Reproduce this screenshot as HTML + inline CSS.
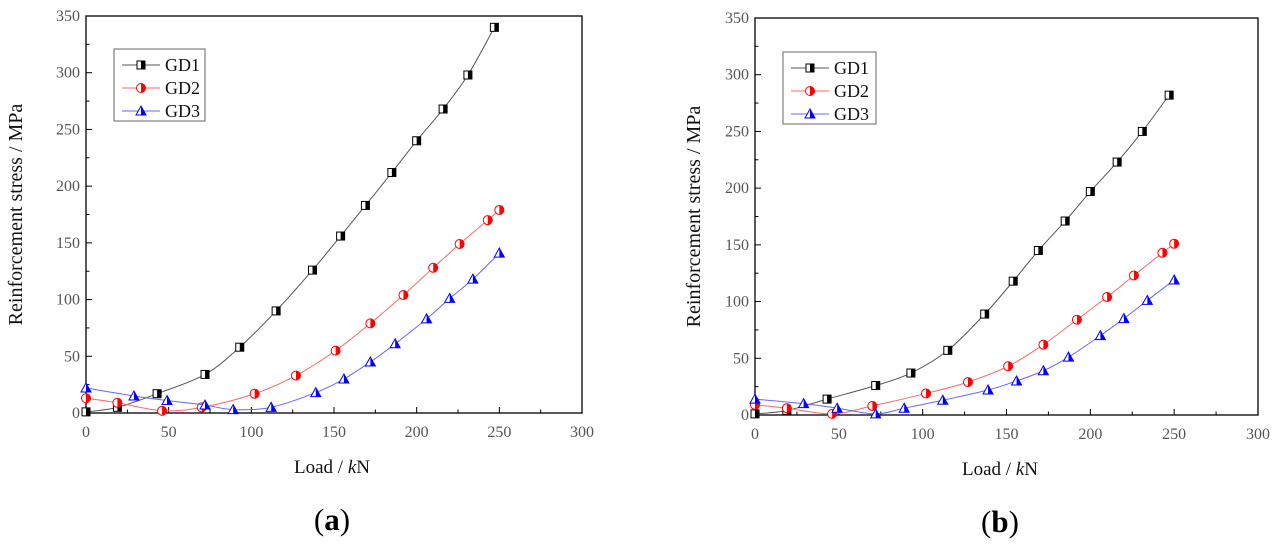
<!DOCTYPE html>
<html><head><meta charset="utf-8"><style>
html,body{margin:0;padding:0;background:#fff;}
svg{display:block;font-family:"Liberation Serif",serif;}
</style></head><body>
<svg id="s" width="1272" height="552" viewBox="0 0 1272 552"></svg>
<script>
const xVals=[0,19,43,72,93,115,137,154,169,185,200,216,231,247];
const xVals2=[0,19,46,70,102,127,151,172,192,210,226,243,250];
const xVals3=[0,29,49,72,89,112,139,156,172,187,206,220,234,250];
const aGD1=[1,5,17,34,58,90,126,156,183,212,240,268,298,340];
const aGD2=[13,9,2,5,17,33,55,79,104,128,149,170,179];
const aGD3=[22,15,11,7,3,5,18,30,45,61,83,101,118,141];
const bGD1=[1,4,14,26,37,57,89,118,145,171,197,223,250,282];
const bGD2=[9,6,1,8,19,29,43,62,84,104,123,143,151];
const bGD3=[14,10,6,1,6,13,22,30,39,51,70,85,101,119];
const xTicks=[0,50,100,150,200,250,300];
const yTicks=[0,50,100,150,200,250,300,350];
const seriesNames=["GD1","GD2","GD3"];
const lineColors=["#555","#f66","#66f"];
const NS="http://www.w3.org/2000/svg";
const svg=document.getElementById('s');
function mk(tag,attrs,parent){const e=document.createElementNS(NS,tag);for(const k in attrs)e.setAttribute(k,attrs[k]);(parent||svg).appendChild(e);return e;}
function smooth(pts){let d=`M${pts[0][0]},${pts[0][1]}`;for(let i=0;i<pts.length-1;i++){const p0=pts[i-1]||pts[i],p1=pts[i],p2=pts[i+1],p3=pts[i+2]||p2;const c1=[p1[0]+(p2[0]-p0[0])/6,p1[1]+(p2[1]-p0[1])/6],c2=[p2[0]-(p3[0]-p1[0])/6,p2[1]-(p3[1]-p1[1])/6];d+=`C${c1[0]},${c1[1]} ${c2[0]},${c2[1]} ${p2[0]},${p2[1]}`;}return d;}
function marker(g,k,x,y){
  if(k===0){mk('rect',{x:x-4,y:y-4,width:8,height:8,fill:'#fff',stroke:'#000','stroke-width':1},g);mk('rect',{x:x,y:y-4,width:4,height:8,fill:'#000'},g);}
  else if(k===1){mk('circle',{cx:x,cy:y,r:4.5,fill:'#fff',stroke:'#f00','stroke-width':1},g);mk('path',{d:`M${x},${y-4.5}A4.5,4.5 0 0 1 ${x},${y+4.5}Z`,fill:'#f00'},g);}
  else {mk('path',{d:`M${x},${y-5}L${x+5},${y+4}L${x-5},${y+4}Z`,fill:'#fff',stroke:'#00f','stroke-width':1},g);mk('path',{d:`M${x},${y-5}L${x+5},${y+4}L${x},${y+4}Z`,fill:'#00f'},g);}
}
function chart(id,L,R,T,B,xs,ys,leg,label,ytx,xtx){
  const g=mk('g',{});
  
  
  const sx=v=>L+(R-L)*v/300, sy=v=>B-(B-T)*v/350;
  const fr=mk('rect',{x:L,y:T,width:R-L,height:B-T,fill:'none',stroke:'#000','stroke-width':1.3},g);
  
  
  for(let v=0;v<=300;v+=25){const big=v%50===0;mk('line',{x1:sx(v),x2:sx(v),y1:B,y2:B-(big?6:3.5),stroke:'#000'},g);}
  for(let v=0;v<=350;v+=25){const big=v%50===0;mk('line',{x1:L,x2:L+(big?6:3.5),y1:sy(v),y2:sy(v),stroke:'#000'},g);}
  xTicks.forEach(v=>{const t=mk('text',{x:sx(v),y:B+24,'text-anchor':'middle','font-size':16,fill:'#555'},g);t.textContent=v;});
  yTicks.forEach(v=>{const t=mk('text',{x:L-6,y:sy(v)+5,'text-anchor':'end','font-size':16,fill:'#555'},g);t.textContent=v;});
  const yt=mk('text',{x:ytx,y:(T+B)/2,'text-anchor':'middle','font-size':20,fill:'#111',transform:`rotate(-90 ${ytx} ${(T+B)/2})`},g);
  yt.textContent='Reinforcement stress / MPa';
  
  
  const xt=mk('text',{x:xtx,y:B+60,'text-anchor':'middle','font-size':19,fill:'#111'},g);
  xt.innerHTML='Load / <tspan font-style="italic">k</tspan>N';
  
  
  const pl=mk('text',{x:xtx,y:B+117,'text-anchor':'middle','font-size':31,fill:'#000'},g);
  pl.innerHTML='(<tspan font-weight="bold">'+label+'</tspan>)';
  
  
  ys.forEach((arr,k)=>{
    const sg=mk('g',{},g);
    
    
    const pts=arr.map((v,i)=>[sx(xs[k][i]),sy(v)]);
    mk('path',{d:smooth(pts),fill:'none',stroke:lineColors[k],'stroke-width':1},sg);
    pts.forEach(p=>marker(sg,k,p[0],p[1]));
  });
  const lg=mk('g',{},g);
  
  
  mk('rect',{x:leg[0],y:leg[1],width:leg[2],height:72,fill:'#fff',stroke:'#666','stroke-width':1},lg);
  seriesNames.forEach((n,k)=>{
    const yy=leg[1]+16+k*23;
    mk('line',{x1:leg[0]+8,x2:leg[0]+46,y1:yy,y2:yy,stroke:lineColors[k]},lg);
    marker(lg,k,leg[0]+27,yy);
    const t=mk('text',{x:leg[0]+51,y:yy+6,'font-size':18,fill:'#111'},lg);
    t.textContent=n;
    
    
  });
}
chart('chart-a',86,582,16,413,[xVals,xVals2,xVals3],[aGD1,aGD2,aGD3],[114,49,91],'a',22,332);
chart('chart-b',755,1258,18,415,[xVals,xVals2,xVals3],[bGD1,bGD2,bGD3],[783,52,93],'b',700,1000);
</script>
</body></html>
